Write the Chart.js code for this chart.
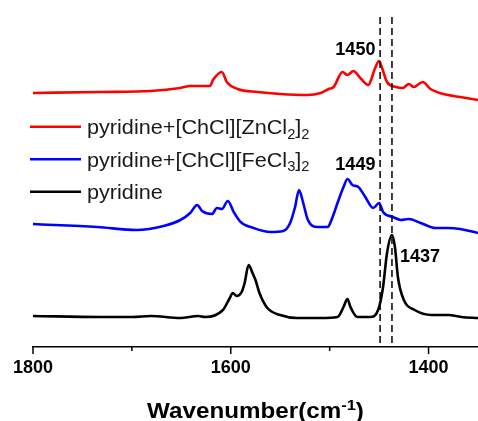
<!DOCTYPE html>
<html>
<head>
<meta charset="utf-8">
<script src="https://cdn.jsdelivr.net/npm/chart.js@4.4.1/dist/chart.umd.min.js"></script>
<style>
  html, body { margin: 0; padding: 0; background: #ffffff; }
  #wrap { width: 478px; height: 421px; }
</style>
</head>
<body>
<div id="wrap"><canvas id="c" width="478" height="421"></canvas></div>
<script>
// ---------- data ----------
const seriesNames = ['pyridine+[ChCl][ZnCl_2]_2', 'pyridine+[ChCl][FeCl_3]_2', 'pyridine'];
const seriesColors = ['#ff0000', '#0000ff', '#000000'];

const redWavenumber = [1800,1732,1681,1651,1641,1621,1618,1609,1604,1593,1573,1550,1523,1509,1501,1496,1487,1482,1476,1469,1461,1454,1450,1447,1442,1433,1426,1420,1415,1406,1398,1385,1368,1350];
const redIntensity  = [2.54,2.55,2.56,2.59,2.61,2.61,2.67,2.75,2.65,2.58,2.55,2.53,2.52,2.54,2.58,2.60,2.75,2.72,2.76,2.69,2.62,2.79,2.86,2.79,2.65,2.60,2.59,2.63,2.60,2.65,2.58,2.53,2.50,2.47];

const blueWavenumber = [1800,1735,1695,1668,1651,1641,1634,1629,1619,1614,1609,1603,1597,1590,1577,1560,1547,1540,1535,1531,1527,1522,1512,1502,1499,1491,1486,1482,1477,1471,1464,1456,1450,1446,1436,1428,1420,1408,1393,1381,1368,1350];
const blueIntensity  = [1.23,1.20,1.17,1.21,1.27,1.34,1.42,1.36,1.33,1.39,1.38,1.46,1.35,1.25,1.19,1.15,1.16,1.24,1.40,1.57,1.45,1.27,1.20,1.20,1.25,1.47,1.60,1.68,1.62,1.60,1.50,1.39,1.44,1.35,1.30,1.27,1.28,1.24,1.19,1.19,1.18,1.14];

const blackWavenumber = [1800,1732,1699,1681,1651,1633,1626,1608,1601,1598,1594,1589,1586,1582,1578,1575,1571,1563,1550,1533,1509,1492,1486,1482,1479,1472,1459,1451,1446,1442,1437,1434,1431,1425,1414,1397,1380,1367,1350];
const blackIntensity  = [0.31,0.30,0.30,0.31,0.29,0.31,0.30,0.37,0.49,0.54,0.51,0.55,0.64,0.82,0.74,0.67,0.54,0.39,0.32,0.29,0.29,0.30,0.40,0.48,0.40,0.30,0.30,0.37,0.60,0.94,1.12,1.00,0.70,0.47,0.37,0.32,0.32,0.30,0.29];

const markerWavenumbers = [1449, 1437];
const peakLabels = ['1450', '1449', '1437'];
const xTickValues = [1800, 1700, 1600, 1500, 1400];
const xTitle = 'Wavenumber(cm^{-1})';

// ---------- helpers ----------
function parseRich(str) {
  const parts = [];
  let i = 0, buf = '';
  while (i < str.length) {
    const ch = str[i];
    if (ch === '_' || ch === '^') {
      if (buf) { parts.push({t: buf, k: 'n'}); buf = ''; }
      let txt;
      if (str[i + 1] === '{') { const e = str.indexOf('}', i); txt = str.slice(i + 2, e); i = e + 1; }
      else { txt = str[i + 1]; i += 2; }
      parts.push({t: txt, k: ch === '_' ? 'sub' : 'sup'});
    } else { buf += ch; i++; }
  }
  if (buf) parts.push({t: buf, k: 'n'});
  return parts;
}
function richWidth(ctx, parts, size, weight, family) {
  let w = 0;
  for (const p of parts) {
    const s = p.k === 'n' ? size : size * 0.68;
    ctx.font = weight + ' ' + s + 'px ' + family;
    w += ctx.measureText(p.t).width;
  }
  return w;
}
function drawRich(ctx, str, x, y, size, weight, family, align, sx) {
  const parts = parseRich(str);
  sx = sx || 1;
  const w = richWidth(ctx, parts, size, weight, family) * sx;
  let cx = align === 'center' ? x - w / 2 : x;
  ctx.textBaseline = 'alphabetic';
  ctx.textAlign = 'left';
  for (const p of parts) {
    const s = p.k === 'n' ? size : size * 0.68;
    ctx.font = weight + ' ' + s + 'px ' + family;
    let dy = 0;
    if (p.k === 'sub') dy = size * 0.22;
    if (p.k === 'sup') dy = -size * 0.38;
    ctx.save();
    ctx.translate(cx, y + dy);
    ctx.scale(sx, 1);
    ctx.fillText(p.t, 0, 0);
    ctx.restore();
    cx += ctx.measureText(p.t).width * sx;
  }
}
const FAMILY = '"Liberation Sans", Arial, sans-serif';

const decorPlugin = {
  id: 'decor',
  afterDraw(chart) {
    const ctx = chart.ctx;
    const xs = chart.scales.x, ys = chart.scales.y;
    const area = chart.chartArea;
    ctx.save();
    // dashed marker lines
    ctx.strokeStyle = '#000';
    ctx.lineWidth = 1.5;
    ctx.setLineDash([7, 4]);
    for (const w of markerWavenumbers) {
      const px = xs.getPixelForValue(w);
      ctx.beginPath();
      ctx.moveTo(px, ys.getPixelForValue(3.30));
      ctx.lineTo(px, area.bottom);
      ctx.stroke();
    }
    ctx.setLineDash([]);
    // tick marks (major with labels longer)
    ctx.lineWidth = 1.5;
    for (const v of xTickValues) {
      const px = xs.getPixelForValue(v);
      const len = v % 200 === 0 ? 7 : 4;
      ctx.beginPath();
      ctx.moveTo(px, area.bottom);
      ctx.lineTo(px, area.bottom + len);
      ctx.stroke();
    }
    // peak labels
    ctx.fillStyle = '#000';
    drawRich(ctx, peakLabels[0], xs.getPixelForValue(1474), ys.getPixelForValue(2.99) + 6.5, 18, 'bold', FAMILY, 'center');
    drawRich(ctx, peakLabels[1], xs.getPixelForValue(1474), ys.getPixelForValue(1.84) + 6.5, 18, 'bold', FAMILY, 'center');
    drawRich(ctx, peakLabels[2], xs.getPixelForValue(1429), ys.getPixelForValue(0.92) + 6.5, 18, 'bold', FAMILY, 'left');
    // legend
    const rows = [126.7, 159.3, 191.7];
    seriesNames.forEach((name, i) => {
      ctx.strokeStyle = seriesColors[i];
      ctx.lineWidth = 2.6;
      ctx.beginPath();
      ctx.moveTo(30, rows[i]);
      ctx.lineTo(81, rows[i]);
      ctx.stroke();
      ctx.fillStyle = '#1a1a1a';
      drawRich(ctx, name, 87, rows[i] + 7.5, 21, 'normal', FAMILY, 'left', 1.03);
    });
    // axis title
    ctx.fillStyle = '#000';
    drawRich(ctx, xTitle, (area.left + area.right) / 2, 418, 22, 'bold', FAMILY, 'center', 1.1);
    ctx.restore();
  }
};

function pts(xs, ys) { return xs.map((x, i) => ({x: x, y: ys[i]})); }

new Chart(document.getElementById('c'), {
  type: 'line',
  data: {
    datasets: [
      {label: seriesNames[0], data: pts(redWavenumber, redIntensity), borderColor: seriesColors[0]},
      {label: seriesNames[1], data: pts(blueWavenumber, blueIntensity), borderColor: seriesColors[1]},
      {label: seriesNames[2], data: pts(blackWavenumber, blackIntensity), borderColor: seriesColors[2]}
    ]
  },
  options: {
    responsive: false,
    animation: false,
    devicePixelRatio: 1,
    layout: {padding: {left: 33, right: 0, top: 0, bottom: 0}},
    elements: {
      line: {borderWidth: 2.6, cubicInterpolationMode: 'monotone', fill: false},
      point: {radius: 0, hoverRadius: 0}
    },
    plugins: {legend: {display: false}, tooltip: {enabled: false}},
    scales: {
      x: {
        type: 'linear',
        reverse: true,
        min: 1350,
        max: 1800,
        grid: {display: false, drawTicks: false},
        border: {display: true, color: '#000', width: 1.5},
        afterBuildTicks: (scale) => { scale.ticks = xTickValues.map(v => ({value: v})); },
        ticks: {
          padding: 10,
          maxRotation: 0,
          autoSkip: false,
          color: '#000',
          font: {family: FAMILY, size: 18, weight: 'bold'},
          callback: (v) => (v % 200 === 0 ? String(v) : '')
        },
        afterFit: (scale) => { scale.height = 74; }
      },
      y: {
        display: false,
        min: 0,
        max: 3.47
      }
    }
  },
  plugins: [decorPlugin]
});
</script>
</body>
</html>
